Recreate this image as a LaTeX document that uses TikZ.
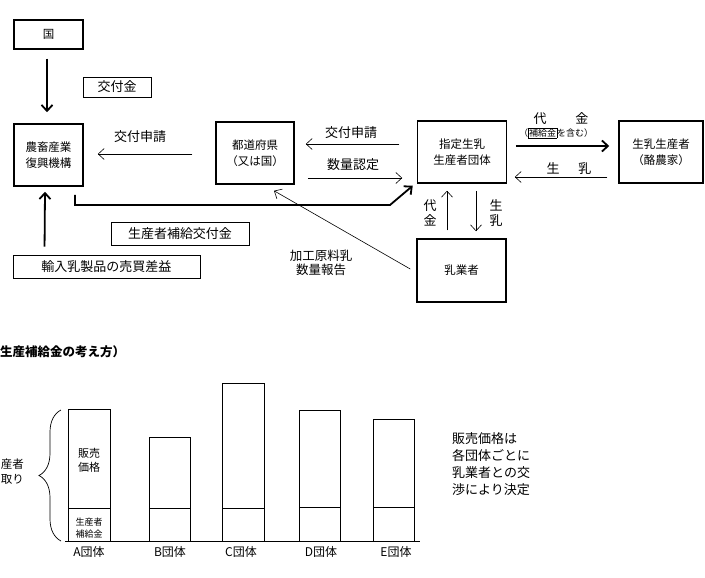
\documentclass[tikz,border=0pt]{standalone}
\usepackage{fontspec}
\setmainfont{Noto Sans CJK JP}
\usetikzlibrary{arrows.meta,calc,decorations.pathreplacing}

\tikzset{
  orgbox/.style={draw, line width=1.5pt, inner sep=0pt, align=center,
    font=\fontsize{11.5}{16.5}\selectfont},
  tagbox/.style={draw, line width=0.9pt, inner sep=0pt, align=center,
    font=\fontsize{13}{16}\selectfont},
  lbl/.style={inner sep=0pt, align=center, font=\fontsize{13}{15}\selectfont},
  thinarrow/.style={line width=0.6pt, -{Straight Barb[length=6pt,width=11pt,line width=0.6pt]}},
  boldarrow/.style={line width=1.8pt, -{Straight Barb[length=6pt,width=11pt,line width=1.8pt]}},
  bar/.style={line width=1pt},
}

\begin{document}
\begin{tikzpicture}[x=1pt,y=-1pt]
\useasboundingbox (0,0) rectangle (705,578);

% ---- organisations ----
\node[orgbox, minimum width=69pt, minimum height=29pt] (kuni) at (48.5,34.5) {国};
\node[orgbox, minimum width=69pt, minimum height=62pt] (alic) at (48.5,155) {農畜産業\\復興機構};
\node[orgbox, minimum width=78pt, minimum height=62pt] (pref) at (255,153) {都道府県\\（又は国）};
\node[orgbox, minimum width=89pt, minimum height=62pt] (shitei) at (462,152) {指定生乳\\生産者団体};
\node[orgbox, minimum width=84pt, minimum height=62pt] (farmer) at (661,152) {生乳生産者\\（酪農家）};
\node[orgbox, minimum width=89pt, minimum height=63pt] (nyugyo) at (461.5,270.5) {乳業者};

% ---- tagged money flows ----
\node[tagbox, minimum width=68pt, minimum height=20pt] (kofukin) at (117,87) {交付金};
\node[tagbox, minimum width=138pt, minimum height=23pt] (hokyu) at (180,233.5) {生産者補給交付金};
\node[tagbox, minimum width=187pt, minimum height=23pt] (yunyu) at (106.5,266.5) {輸入乳製品の売買差益};

% ---- connectors ----
\draw[boldarrow] ($(kuni.south)+(-1.5,9)$) -- ($(alic.north)+(-1.5,-11)$);
\draw[boldarrow] ($(yunyu.north west)+(32,-8)$) -- ($(alic.south)+(-3.5,5)$);

\draw[thinarrow] ($(pref.west)+(-23,1)$) -- ($(alic.east)+(14,-1)$);
\draw[thinarrow] ($(shitei.west)+(-17.5,-8)$) -- ($(pref.east)+(11,-9)$);
\draw[thinarrow] ($(pref.east)+(13,25)$) -- ($(shitei.west)+(-14.5,26)$);

\draw[boldarrow] ($(shitei.east)+(8.5,-6)$) -- ($(farmer.west)+(-9,-6)$);
\draw[thinarrow] ($(farmer.west)+(-11,25)$) -- ($(shitei.east)+(7.5,25)$);

\draw[thinarrow] ($(nyugyo.north)+(-14.5,-8)$) -- ($(shitei.south)+(-15,7)$);
\draw[thinarrow] ($(shitei.south)+(14,7)$) -- ($(nyugyo.north)+(14.5,-7)$);

\draw[thinarrow] ($(nyugyo.west)+(-6,-1.5)$) -- ($(pref.south)+(19,6)$);

\coordinate (bend) at (390,205);
\draw[boldarrow] ($(alic.south)+(26.5,8)$) |- (bend) -- ($(shitei.south west)+(-4,2)$);

% ---- flow labels ----
\node[lbl] (l-shinsei1) at (140,137) {交付申請};
\node[lbl] (l-shinsei2) at (351,133) {交付申請};
\node[lbl] (l-nintei) at (353,165) {数量認定};
\node[lbl] (l-daikin) at (561,119) {代\hspace{29pt}金};
\node[inner sep=0pt, font=\fontsize{9}{10}\selectfont] (l-fukumu) at (556,133)
  {（\setlength{\fboxsep}{0.6pt}\fbox{補給金}を含む）};
\node[lbl] (l-seinyu) at (569,169) {生\hspace{19pt}乳};
\node[lbl, font=\fontsize{13}{15.5}\selectfont] (l-daikin2) at (430,213) {代\\金};
\node[lbl, font=\fontsize{13}{15.5}\selectfont] (l-seinyu2) at (496,213) {生\\乳};
\node[lbl, font=\fontsize{12.5}{14}\selectfont] (l-hokoku) at (321,263) {加工原料乳\\数量報告};

% ---- lower part: producer subsidy concept ----
\node[anchor=west, inner sep=0pt, font=\fontsize{12.5}{14}\selectfont\bfseries] (title) at (0,352) {生産補給金の考え方）};

\node[anchor=east, inner sep=0pt, align=left, font=\fontsize{11.5}{15}\selectfont] (receive) at (24,472) {産者\\取り};
\draw[line width=0.7pt, decorate, decoration={brace, amplitude=22pt}] (61,541) -- (61,410);

\draw[line width=0.8pt] (65,541) -- (420,541);

% bars: A to E
\draw[bar] (68,409) rectangle (110,541);  \draw[bar] (68,508) -- (110,508);
\draw[bar] (149,437) rectangle (190,541); \draw[bar] (149,508) -- (190,508);
\draw[bar] (222,383) rectangle (264,541); \draw[bar] (222,508) -- (264,508);
\draw[bar] (299,410) rectangle (340,541); \draw[bar] (299,507) -- (340,507);
\draw[bar] (373,419) rectangle (414,541); \draw[bar] (373,507) -- (414,507);

\node[inner sep=0pt, align=center, font=\fontsize{11}{14}\selectfont] (sale) at (89,460) {販売\\価格};
\node[inner sep=0pt, align=center, font=\fontsize{9}{12}\selectfont] (subsidy) at (89,528) {生産者\\補給金};

\foreach \n/\x in {A/89, B/170, C/241, D/321, E/396}
  \node[inner sep=0pt, font=\fontsize{12}{14}\selectfont] (grp\n) at (\x,552) {\n 団体};

\node[anchor=north west, inner sep=0pt, align=left, font=\fontsize{13}{17}\selectfont] (note) at (452,432)
  {販売価格は\\各団体ごとに\\乳業者との交\\渉により決定};
\end{tikzpicture}
\end{document}
